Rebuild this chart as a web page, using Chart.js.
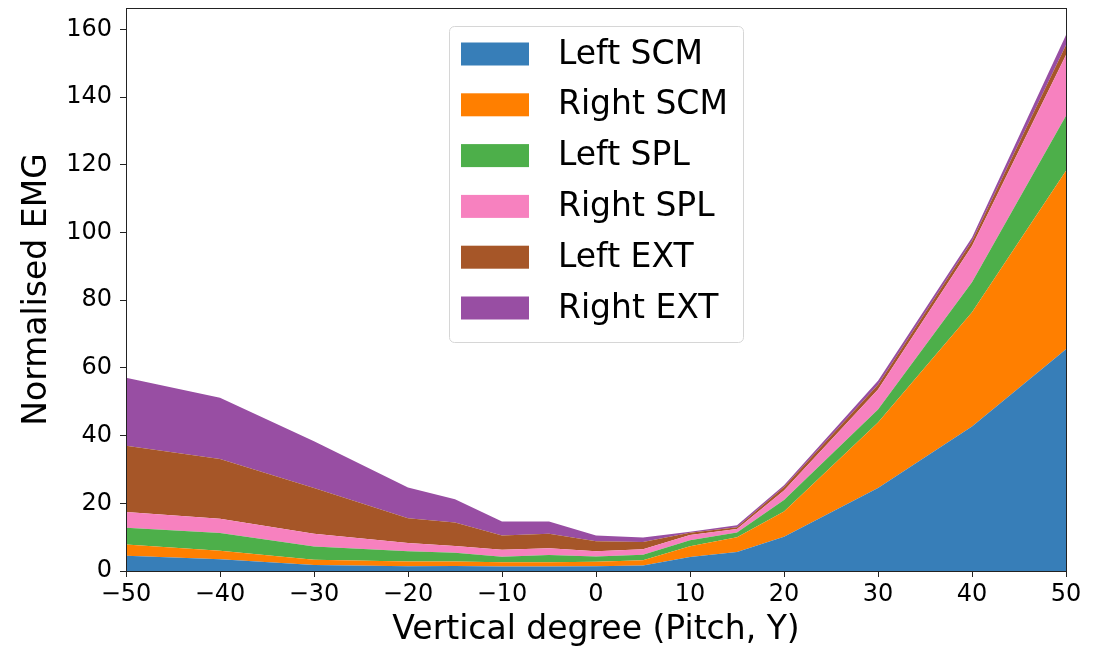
<!DOCTYPE html>
<html>
<head>
<meta charset="utf-8">
<script src="https://cdn.jsdelivr.net/npm/chart.js@4.4.1/dist/chart.umd.min.js"></script>
<style>
  html, body { margin: 0; padding: 0; background: #fff; }
  #wrap { width: 1099px; height: 647px; }
</style>
</head>
<body>
<div id="wrap"><canvas id="emgChart" width="1099" height="647"></canvas></div>
<script>
// pitch angles (degrees)
const pitch = [-50, -40, -30, -20, -15, -10, -5, 0, 5, 10, 15, 20, 30, 40, 50];

// normalised EMG per muscle, stacked bottom to top
const leftSCM  = [4.5, 3.5, 1.8, 1.4, 1.5, 1.3, 1.3, 1.4, 1.6, 4.1, 5.6, 10.1, 24.5, 42.7, 65.5];
const rightSCM = [3.3, 2.5, 1.5, 1.4, 1.3, 1.3, 1.3, 1.3, 1.6, 3.2, 4.4, 7.5, 19.4, 33.7, 52.7];
const leftSPL  = [5.0, 5.2, 3.9, 3.0, 2.6, 1.6, 2.1, 1.6, 1.6, 1.8, 1.4, 3.4, 3.8, 8.9, 16.3];
const rightSPL = [4.6, 4.2, 3.8, 2.5, 2.0, 2.1, 2.0, 1.5, 1.6, 1.5, 1.0, 2.8, 5.9, 10.7, 17.9];
const leftEXT  = [19.6, 17.7, 13.5, 7.3, 6.9, 4.2, 4.3, 3.0, 2.2, 0.7, 0.5, 1.0, 1.4, 1.5, 3.0];
const rightEXT = [20.1, 18.1, 13.8, 9.1, 6.9, 4.1, 3.6, 1.7, 1.3, 0.3, 0.6, 0.5, 1.2, 1.0, 2.9];

const seriesNames = ['Left SCM', 'Right SCM', 'Left SPL', 'Right SPL', 'Left EXT', 'Right EXT'];
const seriesValues = [leftSCM, rightSCM, leftSPL, rightSPL, leftEXT, rightEXT];
const seriesColors = ['#377eb8', '#ff7f00', '#4daf4a', '#f781bf', '#a65628', '#984ea3'];

const xTicks = [-50, -40, -30, -20, -10, 0, 10, 20, 30, 40, 50];
const yTicks = [0, 20, 40, 60, 80, 100, 120, 140, 160];

const FONT = "'DejaVu Sans', sans-serif";

const datasets = seriesValues.map(function(vals, i) {
    return {
        label: seriesNames[i],
        data: vals.map(function(v, j) { return { x: pitch[j], y: v }; }),
        backgroundColor: seriesColors[i],
        borderColor: seriesColors[i],
        borderWidth: 0,
        pointRadius: 0,
        tension: 0,
        fill: i === 0 ? 'origin' : '-1'
    };
});

// box around the plot + legend drawn like matplotlib's
const framePlugin = {
    id: 'frame',
    afterDraw: function(chart) {
        const c = chart.ctx;
        const a = chart.chartArea;
        c.save();
        c.strokeStyle = '#222';
        c.lineWidth = 1;
        c.strokeRect(Math.round(a.left) + 0.5, Math.round(a.top) + 0.5,
                     Math.round(a.right - a.left), Math.round(a.bottom - a.top));

        // legend
        const bx = 449, by = 26, bw = 294, bh = 316;
        c.beginPath();
        c.roundRect(bx + 0.5, by + 0.5, bw, bh, 5);
        c.fillStyle = 'rgba(255,255,255,0.8)';
        c.fill();
        c.strokeStyle = '#d6d6d6';
        c.stroke();

        c.font = '33px ' + FONT;
        c.textBaseline = 'middle';
        c.textAlign = 'left';
        chart.data.datasets.forEach(function(ds, i) {
            const cy = 54 + i * 50.8;
            c.fillStyle = ds.backgroundColor;
            c.fillRect(461, cy - 11.5, 68, 23);
            c.fillStyle = '#000';
            c.fillText(ds.label, 558, cy + 1);
        });
        c.restore();
    }
};

const ctx = document.getElementById('emgChart').getContext('2d');
const chart = new Chart(ctx, {
    type: 'line',
    data: { datasets: datasets },
    plugins: [framePlugin],
    options: {
        responsive: false,
        animation: false,
        layout: { padding: { left: 0, top: 8, right: 33, bottom: 0 } },
        plugins: {
            legend: { display: false },
            tooltip: { enabled: false }
        },
        scales: {
            x: {
                type: 'linear',
                min: -50,
                max: 50,
                afterBuildTicks: function(s) { s.ticks = xTicks.map(function(v) { return { value: v }; }); },
                afterFit: function(s) {
                    s.height = 76;
                    s.paddingLeft = 0;
                    s.paddingRight = 0;
                },
                grid: { drawOnChartArea: false, drawTicks: true, tickLength: 6, color: '#222' },
                border: { display: true, color: '#222', width: 1 },
                ticks: {
                    padding: 3,
                    color: '#000',
                    font: { family: FONT, size: 24 },
                    maxRotation: 0,
                    callback: function(v) { return String(v).replace('-', '\u2212'); }
                },
                title: {
                    display: true,
                    text: 'Vertical degree (Pitch, Y)',
                    color: '#000',
                    font: { family: FONT, size: 33, lineHeight: 1 },
                    padding: { top: -1, bottom: 0 }
                }
            },
            y: {
                stacked: true,
                min: 0,
                max: 166.3,
                afterBuildTicks: function(s) { s.ticks = yTicks.map(function(v) { return { value: v }; }); },
                afterFit: function(s) {
                    s.width = 126;
                    s.paddingTop = 0;
                    s.paddingBottom = 0;
                },
                grid: { drawOnChartArea: false, drawTicks: true, tickLength: 6, color: '#222' },
                border: { display: true, color: '#222', width: 1 },
                ticks: {
                    padding: 8,
                    color: '#000',
                    font: { family: FONT, size: 24 }
                },
                title: {
                    display: true,
                    text: 'Normalised EMG',
                    color: '#000',
                    font: { family: FONT, size: 33, lineHeight: 1 },
                    padding: { top: 21, bottom: 0 }
                }
            }
        }
    }
});
</script>
</body>
</html>
